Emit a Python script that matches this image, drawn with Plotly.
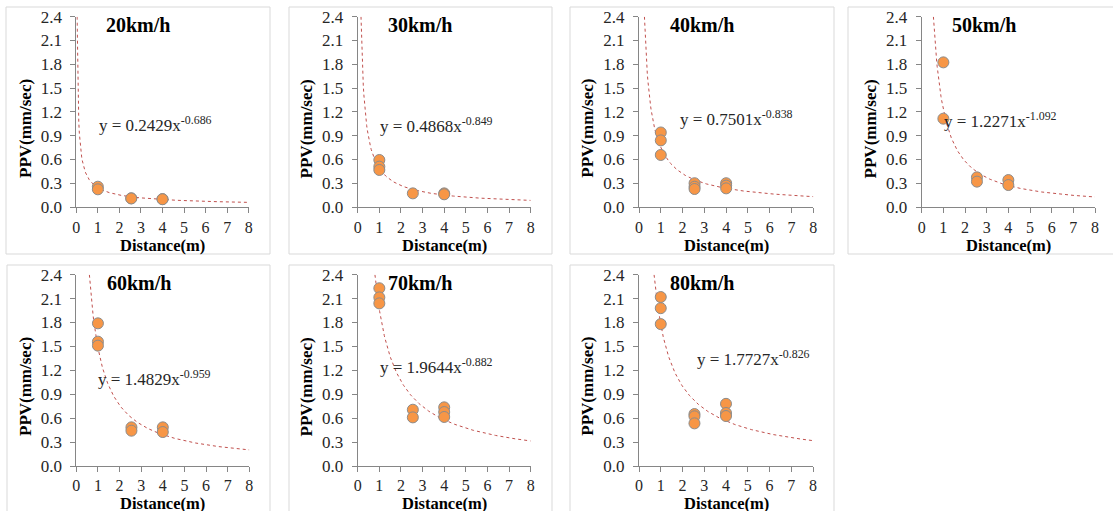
import numpy as np
import plotly.graph_objects as go

# ---------------- data ----------------
speeds = ["20km/h", "30km/h", "40km/h", "50km/h", "60km/h", "70km/h", "80km/h"]
coef_a = [0.2429, 0.4868, 0.7501, 1.2271, 1.4829, 1.9644, 1.7727]
coef_b = [-0.686, -0.849, -0.838, -1.092, -0.959, -0.882, -0.826]
equations = [
    "y = 0.2429x<sup>-0.686</sup>",
    "y = 0.4868x<sup>-0.849</sup>",
    "y = 0.7501x<sup>-0.838</sup>",
    "y = 1.2271x<sup>-1.092</sup>",
    "y = 1.4829x<sup>-0.959</sup>",
    "y = 1.9644x<sup>-0.882</sup>",
    "y = 1.7727x<sup>-0.826</sup>",
]

dist_20 = [1.0, 1.0, 2.55, 2.55, 4.0, 4.0]
ppv_20 = [0.256, 0.223, 0.110, 0.108, 0.100, 0.098]
dist_30 = [1.0, 1.0, 1.0, 2.55, 4.0, 4.0]
ppv_30 = [0.593, 0.509, 0.467, 0.172, 0.172, 0.160]
dist_40 = [1.0, 1.0, 1.0, 2.55, 2.55, 2.55, 4.0, 4.0, 4.0]
ppv_40 = [0.940, 0.840, 0.656, 0.300, 0.256, 0.227, 0.300, 0.270, 0.235]
dist_50 = [1.0, 1.0, 2.55, 2.55, 4.0, 4.0]
ppv_50 = [1.824, 1.114, 0.374, 0.320, 0.340, 0.277]
dist_60 = [1.0, 1.0, 1.0, 2.55, 2.55, 4.0, 4.0]
ppv_60 = [1.790, 1.560, 1.510, 0.485, 0.443, 0.485, 0.426]
dist_70 = [1.0, 1.0, 1.0, 2.55, 2.55, 4.0, 4.0, 4.0]
ppv_70 = [2.230, 2.115, 2.040, 0.706, 0.610, 0.736, 0.677, 0.615]
dist_80 = [1.0, 1.0, 1.0, 2.55, 2.55, 2.55, 4.0, 4.0, 4.0]
ppv_80 = [2.120, 1.980, 1.780, 0.652, 0.623, 0.535, 0.780, 0.665, 0.627]

dists = [dist_20, dist_30, dist_40, dist_50, dist_60, dist_70, dist_80]
ppvs = [ppv_20, ppv_30, ppv_40, ppv_50, ppv_60, ppv_70, ppv_80]

x_ticks = [0, 1, 2, 3, 4, 5, 6, 7, 8]
y_ticks = [0.0, 0.3, 0.6, 0.9, 1.2, 1.5, 1.8, 2.1, 2.4]

# ---------------- layout (pixels) ----------------
W, H = 1113, 511
plot_x = [(76.3, 248.7), (357.7, 530.7), (639, 813.3), (921.7, 1095),
          (76.3, 249.3), (357.7, 530.7), (639, 813)]
plot_y = [(16.7, 207)] * 4 + [(274.7, 466)] * 3
frames = [(6, 7, 270, 254), (289, 7, 552, 254), (570, 7, 834, 254), (848, 7, 1125, 254),
          (7, 265, 270, 530), (289, 265, 552, 530), (570, 265, 834, 530)]
eq_pos = [(0.94, 1.05), (0.93, 1.04), (1.79, 1.12), (0.92, 1.10),
          (0.91, 1.105), (0.93, 1.26), (2.57, 1.36)]
xtitle_gap = [38.5, 38.5, 38.5, 38.5, 37.0, 37.0, 37.0]
xtick_standoff = [1, 1, 1, 1, 0, 0, 0]

SERIF = "Liberation Serif, Times New Roman, serif"
TXT = "#262626"

def px(x):
    return x / W

def py(y):
    return 1 - y / H

fig = go.Figure()
annotations = []
shapes = []

for i in range(7):
    n = i + 1
    xa = "x" if n == 1 else f"x{n}"
    ya = "y" if n == 1 else f"y{n}"
    a, b = coef_a[i], coef_b[i]
    x_start = (2.4 / a) ** (1 / b)
    xs = np.linspace(x_start, 8, 300)
    fig.add_trace(go.Scatter(
        x=xs, y=a * xs ** b, mode="lines", xaxis=xa, yaxis=ya,
        line=dict(color="#c0504d", width=1, dash="3px,3px"),
        hoverinfo="skip", showlegend=False))
    fig.add_trace(go.Scatter(
        x=dists[i], y=ppvs[i], mode="markers", xaxis=xa, yaxis=ya,
        marker=dict(size=11, color="#f79646", line=dict(color="#8c8c8c", width=1)),
        showlegend=False, cliponaxis=False))

    x0, x1 = plot_x[i]
    y0, y1 = plot_y[i]
    axis_common = dict(showgrid=False, zeroline=False, showline=True,
                       linecolor="#868686", linewidth=1, ticks="outside",
                       ticklen=5, tickcolor="#868686", fixedrange=True,
                       automargin=False)
    fig.layout[("xaxis" if n == 1 else f"xaxis{n}")] = dict(
        domain=[px(x0), px(x1)], anchor=ya, range=[0, 8],
        tickvals=x_ticks, ticktext=[str(v) for v in x_ticks],
        ticklabelstandoff=xtick_standoff[i],
        tickfont=dict(family=SERIF, size=16, color=TXT),
        **axis_common)
    fig.layout[("yaxis" if n == 1 else f"yaxis{n}")] = dict(
        domain=[py(y1), py(y0)], anchor=xa, range=[0, 2.4],
        tickvals=y_ticks, ticktext=[f"{v:.1f}" for v in y_ticks],
        ticklabelstandoff=5, tickfont=dict(family=SERIF, size=17, color=TXT),
        **axis_common)

    # panel title
    annotations.append(dict(x=2.88, y=2.30, xref=xa, yref=ya, text=f"<b>{speeds[i]}</b>",
                            showarrow=False, xanchor="center", yanchor="middle",
                            font=dict(family=SERIF, size=20, color="#000000")))
    # equation
    ex, ey = eq_pos[i]
    annotations.append(dict(x=ex, y=ey, xref=xa, yref=ya, text=equations[i],
                            showarrow=False, xanchor="left", yanchor="middle",
                            font=dict(family=SERIF, size=17, color=TXT)))
    # axis titles
    annotations.append(dict(x=px(x0 - 51), y=py(y0 + 112), xref="paper", yref="paper",
                            text="<b>PPV(mm/sec)</b>", textangle=-90, showarrow=False,
                            xanchor="center", yanchor="middle",
                            font=dict(family=SERIF, size=17, color="#000000")))
    annotations.append(dict(x=px((x0 + x1) / 2), y=py(y1 + xtitle_gap[i]), xref="paper",
                            yref="paper", text="<b>Distance(m)</b>", showarrow=False,
                            xanchor="center", yanchor="middle",
                            font=dict(family=SERIF, size=16.5, color="#000000")))
    fx0, fy0, fx1, fy1 = frames[i]
    shapes.append(dict(type="rect", xref="paper", yref="paper",
                       x0=px(fx0), x1=px(fx1), y0=py(fy1), y1=py(fy0),
                       line=dict(color="#d9d9d9", width=1), fillcolor="rgba(0,0,0,0)",
                       layer="below"))

fig.update_layout(
    width=W, height=H, margin=dict(l=0, r=0, t=0, b=0, autoexpand=False),
    paper_bgcolor="white", plot_bgcolor="white",
    annotations=annotations, shapes=shapes, showlegend=False,
)

fig.write_html(
    "out.html",
    config={"displayModeBar": False},
    post_script="document.body.style.margin='0';document.body.style.overflow='hidden';",
)
